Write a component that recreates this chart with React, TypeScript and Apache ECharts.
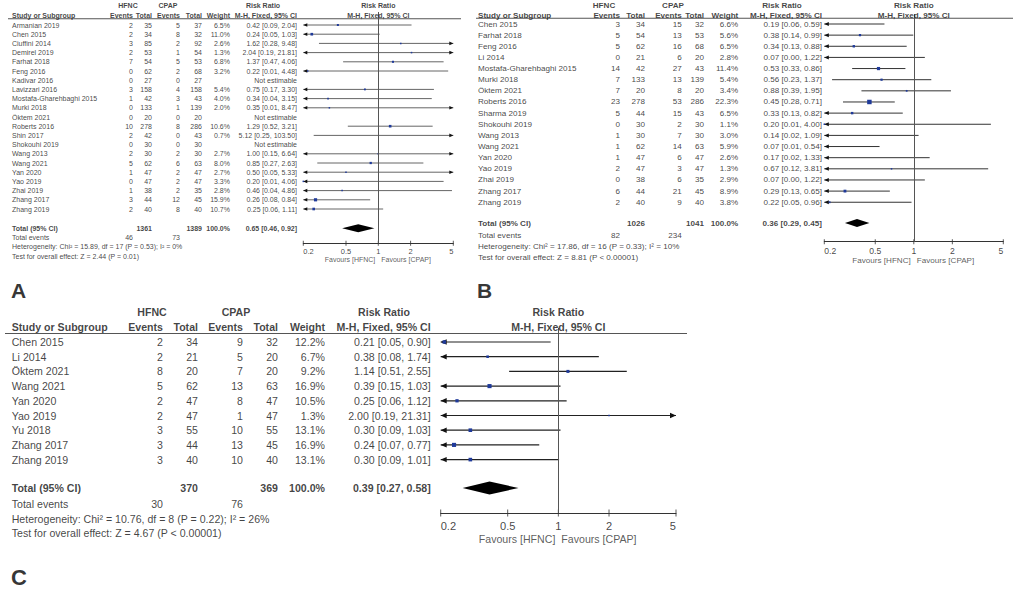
import React, { useEffect, useRef } from "react";
import * as echarts from "echarts";

const W = 1013;
const H = 595;
const FONT = '"Liberation Sans", Arial, Helvetica, sans-serif';

// ---------------- Panel A data ----------------
const studiesA = ["Armanian 2019", "Chen 2015", "Ciuffini 2014", "Demirel 2019", "Farhat 2018", "Feng 2016", "Kadivar 2016", "Lavizzari 2016", "Mostafa-Gharehbaghi 2015", "Murki 2018", "Öktem 2021", "Roberts 2016", "Shin 2017", "Shokouhi 2019", "Wang 2013", "Wang 2021", "Yan 2020", "Yao 2019", "Zhai 2019", "Zhang 2017", "Zhang 2019"];
const hfncEventsA = [2, 2, 3, 2, 7, 0, 0, 3, 1, 0, 0, 10, 2, 0, 2, 5, 1, 0, 1, 3, 2];
const hfncTotalA = [35, 34, 85, 53, 54, 62, 27, 158, 42, 133, 20, 278, 42, 30, 30, 62, 47, 47, 38, 44, 40];
const cpapEventsA = [5, 8, 2, 1, 5, 2, 0, 4, 3, 1, 0, 8, 0, 0, 2, 6, 2, 2, 2, 12, 8];
const cpapTotalA = [37, 32, 92, 54, 53, 68, 27, 158, 43, 139, 20, 286, 43, 30, 30, 63, 47, 47, 35, 45, 40];
const weightA = [6.5, 11.0, 2.6, 1.3, 6.8, 3.2, null, 5.4, 4.0, 2.0, null, 10.6, 0.7, null, 2.7, 8.0, 2.7, 3.3, 2.8, 15.9, 10.7];
const rrA = [0.42, 0.24, 1.62, 2.04, 1.37, 0.22, null, 0.75, 0.34, 0.35, null, 1.29, 5.12, null, 1.0, 0.85, 0.5, 0.2, 0.46, 0.26, 0.25];
const lowA = [0.09, 0.05, 0.28, 0.19, 0.47, 0.01, null, 0.17, 0.04, 0.01, null, 0.52, 0.25, null, 0.15, 0.27, 0.05, 0.01, 0.04, 0.08, 0.06];
const highA = [2.04, 1.03, 9.48, 21.81, 4.06, 4.48, null, 3.3, 3.15, 8.47, null, 3.21, 103.5, null, 6.64, 2.63, 5.33, 4.06, 4.86, 0.84, 1.11];
const totalsA = [1361, 1389];
const totalEventsA = [46, 73];
const pooledA = [0.65, 0.46, 0.92];
const heterogeneityA = "Heterogeneity: Chi² = 15.89, df = 17 (P = 0.53); I² = 0%";
const overallA = "Test for overall effect: Z = 2.44 (P = 0.01)";

// ---------------- Panel B data ----------------
const studiesB = ["Chen 2015", "Farhat 2018", "Feng 2016", "Li 2014", "Mostafa-Gharehbaghi 2015", "Murki 2018", "Öktem 2021", "Roberts 2016", "Sharma 2019", "Shokouhi 2019", "Wang 2013", "Wang 2021", "Yan 2020", "Yao 2019", "Zhai 2019", "Zhang 2017", "Zhang 2019"];
const hfncEventsB = [3, 5, 5, 0, 14, 7, 7, 23, 5, 0, 1, 1, 1, 2, 0, 6, 2];
const hfncTotalB = [34, 54, 62, 21, 42, 133, 20, 278, 44, 30, 30, 62, 47, 47, 38, 44, 40];
const cpapEventsB = [15, 13, 16, 6, 27, 13, 8, 53, 15, 2, 7, 14, 6, 3, 6, 21, 9];
const cpapTotalB = [32, 53, 68, 20, 43, 139, 20, 286, 43, 30, 30, 63, 47, 47, 35, 45, 40];
const weightB = [6.6, 5.6, 6.5, 2.8, 11.4, 5.4, 3.4, 22.3, 6.5, 1.1, 3.0, 5.9, 2.6, 1.3, 2.9, 8.9, 3.8];
const rrB = [0.19, 0.38, 0.34, 0.07, 0.53, 0.56, 0.88, 0.45, 0.33, 0.2, 0.14, 0.07, 0.17, 0.67, 0.07, 0.29, 0.22];
const lowB = [0.06, 0.14, 0.13, 0.0, 0.33, 0.23, 0.39, 0.28, 0.13, 0.01, 0.02, 0.01, 0.02, 0.12, 0.0, 0.13, 0.05];
const highB = [0.59, 0.99, 0.88, 1.22, 0.86, 1.37, 1.95, 0.71, 0.82, 4.0, 1.09, 0.54, 1.33, 3.81, 1.22, 0.65, 0.96];
const totalsB = [1026, 1041];
const totalEventsB = [82, 234];
const pooledB = [0.36, 0.29, 0.45];
const heterogeneityB = "Heterogeneity: Chi² = 17.86, df = 16 (P = 0.33); I² = 10%";
const overallB = "Test for overall effect: Z = 8.81 (P < 0.00001)";

// ---------------- Panel C data ----------------
const studiesC = ["Chen 2015", "Li 2014", "Öktem 2021", "Wang 2021", "Yan 2020", "Yao 2019", "Yu 2018", "Zhang 2017", "Zhang 2019"];
const hfncEventsC = [2, 2, 8, 5, 2, 2, 3, 3, 3];
const hfncTotalC = [34, 21, 20, 62, 47, 47, 55, 44, 40];
const cpapEventsC = [9, 5, 7, 13, 8, 1, 10, 13, 10];
const cpapTotalC = [32, 20, 20, 63, 47, 47, 55, 45, 40];
const weightC = [12.2, 6.7, 9.2, 16.9, 10.5, 1.3, 13.1, 16.9, 13.1];
const rrC = [0.21, 0.38, 1.14, 0.39, 0.25, 2.0, 0.3, 0.24, 0.3];
const lowC = [0.05, 0.08, 0.51, 0.15, 0.06, 0.19, 0.09, 0.07, 0.09];
const highC = [0.9, 1.74, 2.55, 1.03, 1.12, 21.31, 1.03, 0.77, 1.01];
const totalsC = [370, 369];
const totalEventsC = [30, 76];
const pooledC = [0.39, 0.27, 0.58];
const heterogeneityC = "Heterogeneity: Chi² = 10.76, df = 8 (P = 0.22); I² = 26%";
const overallC = "Test for overall effect: Z = 4.67 (P < 0.00001)";

// ---------------- Axis ----------------
const tickValues = [0.2, 0.5, 1, 2, 5];
const tickLabels = ["0.2", "0.5", "1", "2", "5"];
const panelLetters = ["A", "B", "C"];
const groupLabels = ["HFNC", "CPAP"];
const favourLabels = ["Favours [HFNC]", "Favours [CPAP]"];

const panelsData = [
  { studies: studiesA, hE: hfncEventsA, hT: hfncTotalA, cE: cpapEventsA, cT: cpapTotalA, w: weightA, rr: rrA, lo: lowA, hi: highA, totals: totalsA, events: totalEventsA, pooled: pooledA, het: heterogeneityA, overall: overallA },
  { studies: studiesB, hE: hfncEventsB, hT: hfncTotalB, cE: cpapEventsB, cT: cpapTotalB, w: weightB, rr: rrB, lo: lowB, hi: highB, totals: totalsB, events: totalEventsB, pooled: pooledB, het: heterogeneityB, overall: overallB },
  { studies: studiesC, hE: hfncEventsC, hT: hfncTotalC, cE: cpapEventsC, cT: cpapTotalC, w: weightC, rr: rrC, lo: lowC, hi: highC, totals: totalsC, events: totalEventsC, pooled: pooledC, het: heterogeneityC, overall: overallC },
];

// ---------------- Layout (pixels) ----------------
const layouts = [
  {
    font: 7, nameX: 12, cols: [133, 152, 180, 202, 230, 297], hfncC: 128, cpapC: 168, rrTableC: 263,
    h1: 5.5, h2: 15, ulY: 18.8, ulX0: 8, ulX1: 461, y0: 25, dy: 9.2,
    totalY: 228.3, eventsY: 237.7, hetY: 246.7, testY: 256,
    pl: 303.3, pr: 453.3, pt: 12, axisY: 243.3, tickLabY: 251.7, favY: 259.5,
    letterX: 11, letterY: 290, letterSize: 21, sqK: 0.8, minSq: 1.5, dH: 4, arrL: 4, arrH: 1.8, tickH: 5, ciW: 0.9, ciColor: "#555",
  },
  {
    font: 8.1, nameX: 478, cols: [620, 645, 681.7, 704, 738.3, 822], hfncC: 604, cpapC: 673, rrTableC: 782,
    h1: 5, h2: 15, ulY: 18.3, ulX0: 476, ulX1: 1013, y0: 24, dy: 11.14,
    totalY: 223, eventsY: 235.3, hetY: 246.3, testY: 257.5,
    pl: 824.3, pr: 1003.3, pt: 14, axisY: 241.7, tickLabY: 250.7, favY: 260.7,
    letterX: 477, letterY: 290, letterSize: 21, sqK: 0.95, minSq: 1.5, dH: 4, arrL: 4.5, arrH: 2, tickH: 5, ciW: 1, ciColor: "#333",
  },
  {
    font: 10.6, nameX: 11.7, cols: [163, 198, 243, 278, 325, 430.7], hfncC: 152, cpapC: 236, rrTableC: 384,
    h1: 312, h2: 327, ulY: 333.5, ulX0: 5, ulX1: 687, y0: 342, dy: 14.7,
    totalY: 488, eventsY: 503.5, hetY: 518.5, testY: 533,
    pl: 440.7, pr: 676, pt: 328, axisY: 513, tickLabY: 526, favY: 539,
    letterX: 11, letterY: 577.5, letterSize: 22, sqK: 1.0, minSq: 1.5, dH: 6.5, arrL: 6, arrH: 2.7, tickH: 7, ciW: 1.2, ciColor: "#222",
  },
];

const fmt2 = (v: number) => v.toFixed(2);
const rrText = (r: number | null, l: number | null, h: number | null) =>
  r == null ? "Not estimable" : `${fmt2(r)} [${fmt2(l as number)}, ${fmt2(h as number)}]`;

function txt(x: number, y: number, text: string, align: string, size: number, bold = false, color = "#111") {
  return {
    value: [x, y],
    label: {
      show: true,
      formatter: text,
      position: "inside",
      align,
      verticalAlign: "middle",
      fontSize: size,
      fontWeight: bold ? "bold" : "normal",
      fontFamily: FONT,
      color,
    } as any,
  };
}

function buildOption() {
  const grid: any[] = [{ left: 0, top: 0, width: W, height: H }];
  const xAxis: any[] = [{ type: "value", gridIndex: 0, min: 0, max: W, show: false }];
  const yAxis: any[] = [{ type: "value", gridIndex: 0, min: 0, max: H, inverse: true, show: false }];
  const series: any[] = [];

  panelsData.forEach((d, i) => {
    const L = layouts[i];
    const gi = i + 1;
    const f = L.font;
    const [cHE, cHT, cCE, cCT, cW, cRR] = L.cols;
    const plotC = (L.pl + L.pr) / 2;
    const rowOf = (py: number) => (py - L.y0) / L.dy;

    grid.push({ left: L.pl, top: L.pt, width: L.pr - L.pl, height: L.axisY - L.pt });
    xAxis.push({
      type: "log", gridIndex: gi, min: 0.2, max: 5,
      axisLine: { show: true, onZero: false, lineStyle: { color: "#333", width: 1 } },
      axisTick: { show: false }, axisLabel: { show: false }, splitLine: { show: false },
    });
    yAxis.push({ type: "value", gridIndex: gi, min: rowOf(L.pt), max: rowOf(L.axisY), inverse: true, show: false });

    // ---- table texts ----
    const items: any[] = [];
    items.push(txt(L.hfncC, L.h1, groupLabels[0], "center", f, true));
    items.push(txt(L.cpapC, L.h1, groupLabels[1], "center", f, true));
    items.push(txt(L.rrTableC, L.h1, "Risk Ratio", "center", f, true));
    items.push(txt(plotC, L.h1, "Risk Ratio", "center", f, true));
    items.push(txt(L.nameX, L.h2, "Study or Subgroup", "left", f, true));
    items.push(txt(cHE, L.h2, "Events", "right", f, true));
    items.push(txt(cHT, L.h2, "Total", "right", f, true));
    items.push(txt(cCE, L.h2, "Events", "right", f, true));
    items.push(txt(cCT, L.h2, "Total", "right", f, true));
    items.push(txt(cW, L.h2, "Weight", "right", f, true));
    items.push(txt(cRR, L.h2, "M-H, Fixed, 95% CI", "right", f, true));
    items.push(txt(plotC, L.h2, "M-H, Fixed, 95% CI", "center", f, true));

    d.studies.forEach((s, k) => {
      const y = L.y0 + k * L.dy;
      items.push(txt(L.nameX, y, s, "left", f));
      items.push(txt(cHE, y, String(d.hE[k]), "right", f));
      items.push(txt(cHT, y, String(d.hT[k]), "right", f));
      items.push(txt(cCE, y, String(d.cE[k]), "right", f));
      items.push(txt(cCT, y, String(d.cT[k]), "right", f));
      if (d.w[k] != null) items.push(txt(cW, y, `${(d.w[k] as number).toFixed(1)}%`, "right", f));
      items.push(txt(cRR, y, rrText(d.rr[k], d.lo[k], d.hi[k]), "right", f));
    });

    items.push(txt(L.nameX, L.totalY, "Total (95% CI)", "left", f, true));
    items.push(txt(cHT, L.totalY, String(d.totals[0]), "right", f, true));
    items.push(txt(cCT, L.totalY, String(d.totals[1]), "right", f, true));
    items.push(txt(cW, L.totalY, "100.0%", "right", f, true));
    items.push(txt(cRR, L.totalY, rrText(d.pooled[0], d.pooled[1], d.pooled[2]), "right", f, true));
    items.push(txt(L.nameX, L.eventsY, "Total events", "left", f));
    items.push(txt(cHE, L.eventsY, String(d.events[0]), "right", f));
    items.push(txt(cCE, L.eventsY, String(d.events[1]), "right", f));
    items.push(txt(L.nameX, L.hetY, d.het, "left", f));
    items.push(txt(L.nameX, L.testY, d.overall, "left", f));
    items.push(txt(L.letterX, L.letterY, panelLetters[i], "left", L.letterSize, true, "#000"));

    series.push({
      type: "scatter", xAxisIndex: 0, yAxisIndex: 0, symbolSize: 0, silent: true, clip: false,
      data: items, z: 5,
    });

    // header underline
    series.push({
      type: "line", xAxisIndex: 0, yAxisIndex: 0, symbol: "none", silent: true,
      data: [[L.ulX0, L.ulY], [L.ulX1, L.ulY]],
      lineStyle: { color: "#555", width: 1.1 },
    });

    // ---- forest: CI lines, arrows, squares ----
    const forestData: any[] = [];
    d.studies.forEach((_, k) => {
      if (d.rr[k] == null) return;
      forestData.push([d.rr[k], k, d.lo[k], d.hi[k], d.w[k]]);
    });
    series.push({
      type: "custom", xAxisIndex: gi, yAxisIndex: gi, clip: false, silent: true, z: 4,
      encode: { x: 0, y: 1 },
      data: forestData,
      renderItem: (_p: any, api: any) => {
        const rr = api.value(0), row = api.value(1), lo = api.value(2), hi = api.value(3), w = api.value(4);
        const cl = (v: number) => Math.min(Math.max(v, 0.2), 5);
        const a = api.coord([cl(lo), row]);
        const b = api.coord([cl(hi), row]);
        const ch: any[] = [
          { type: "line", shape: { x1: a[0], y1: a[1], x2: b[0], y2: b[1] }, style: { stroke: L.ciColor, lineWidth: L.ciW } },
        ];
        if (lo < 0.2) ch.push({ type: "polygon", shape: { points: [[a[0], a[1]], [a[0] + L.arrL, a[1] - L.arrH], [a[0] + L.arrL, a[1] + L.arrH]] }, style: { fill: "#111" } });
        if (hi > 5) ch.push({ type: "polygon", shape: { points: [[b[0], b[1]], [b[0] - L.arrL, b[1] - L.arrH], [b[0] - L.arrL, b[1] + L.arrH]] }, style: { fill: "#111" } });
        if (rr >= 0.2 && rr <= 5) {
          const c = api.coord([rr, row]);
          const s = Math.max(L.minSq, L.sqK * Math.sqrt(w));
          ch.push({ type: "rect", shape: { x: c[0] - s / 2, y: c[1] - s / 2, width: s, height: s }, style: { fill: "#1f3a9a" } });
        }
        return { type: "group", children: ch };
      },
    });

    // ---- pooled diamond ----
    series.push({
      type: "custom", xAxisIndex: gi, yAxisIndex: gi, clip: false, silent: true, z: 4,
      encode: { x: 0, y: 1 },
      data: [[d.pooled[0], rowOf(L.totalY), d.pooled[1], d.pooled[2]]],
      renderItem: (_p: any, api: any) => {
        const c = api.coord([api.value(0), api.value(1)]);
        const a = api.coord([api.value(2), api.value(1)]);
        const b = api.coord([api.value(3), api.value(1)]);
        return {
          type: "polygon",
          shape: { points: [[a[0], a[1]], [c[0], c[1] - L.dH], [b[0], b[1]], [c[0], c[1] + L.dH]] },
          style: { fill: "#000" },
        };
      },
    });

    // ---- ticks + reference line ----
    series.push({
      type: "scatter", xAxisIndex: gi, yAxisIndex: gi, clip: false, silent: true, z: 3,
      symbol: "rect", symbolSize: [1, L.tickH],
      itemStyle: { color: "#333" },
      data: tickValues.map((v) => [v, rowOf(L.axisY)]),
      markLine: {
        silent: true, symbol: ["none", "none"], animation: false,
        label: { show: false },
        lineStyle: { color: "#555", width: 1, type: "solid" },
        data: [{ xAxis: 1 }],
      },
    });
    series.push({
      type: "scatter", xAxisIndex: gi, yAxisIndex: gi, clip: false, silent: true, symbolSize: 0,
      data: tickValues.map((v, k) =>
        txt(v, rowOf(L.tickLabY), tickLabels[k], k === 0 ? "left" : k === tickValues.length - 1 ? "right" : "center", f + 0.5, false, "#111")
      ),
    });
    const favItems = [
      txt(1, rowOf(L.favY), favourLabels[0], "right", f, false, "#333"),
      txt(1, rowOf(L.favY), favourLabels[1], "left", f, false, "#333"),
    ];
    favItems[0].label.offset = [-3, 0];
    favItems[1].label.offset = [3, 0];
    series.push({
      type: "scatter", xAxisIndex: gi, yAxisIndex: gi, clip: false, silent: true, symbolSize: 0,
      data: favItems,
    });
  });

  return {
    animation: false,
    backgroundColor: "#fff",
    textStyle: { fontFamily: FONT },
    grid, xAxis, yAxis, series,
  };
}

export default function App() {
  const ref = useRef<HTMLDivElement>(null);
  useEffect(() => {
    if (!ref.current) return;
    const chart = echarts.init(ref.current, undefined, { renderer: "svg" });
    chart.setOption(buildOption() as any);
    return () => chart.dispose();
  }, []);
  return (
    <div
      ref={ref}
      style={{ position: "fixed", left: 0, top: 0, width: W, height: H, background: "#fff" }}
    />
  );
}
